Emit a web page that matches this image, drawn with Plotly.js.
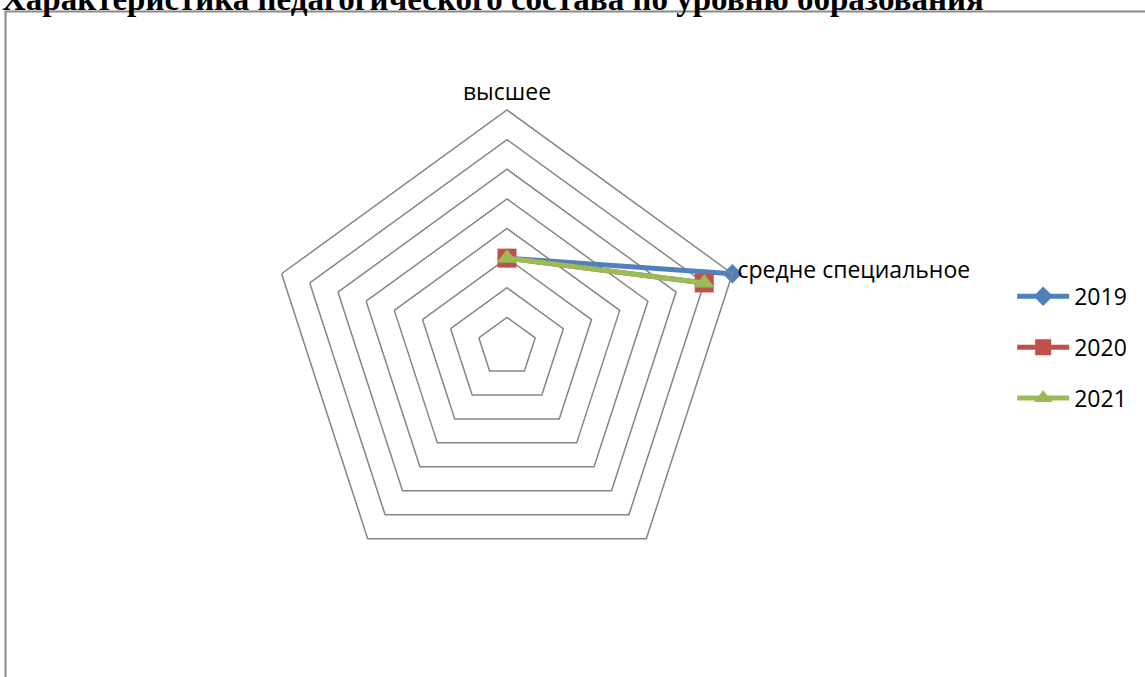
<!DOCTYPE html>
<html>
<head>
<meta charset="utf-8">
<script src="https://cdn.plot.ly/plotly-3.0.1.min.js"></script>
<style>html,body{margin:0;padding:0;background:#fff;}#chart{width:1145px;height:677px;}</style>
</head>
<body>
<div id="chart"></div>
<script>
const titleText = "Характеристика педагогического состава по уровню образования";
const categories = ["высшее", "средне специальное", " ", "  ", "   "];
const seriesNames = ["2019", "2020", "2021"];
const values2019 = [3, 8, null, null, null];
const values2020 = [3, 7, null, null, null];
const values2021 = [3, 7, null, null, null];

const colors = ["#4F81BD", "#C0504D", "#9BBB59"];
const symbols = ["diamond", "square", "triangle-up"];
const markerSizes = [15, 19, 18];
const allValues = [values2019, values2020, values2021];

const traces = allValues.map((vals, i) => ({
  type: "scatterpolar",
  r: vals,
  theta: categories,
  name: seriesNames[i],
  legendgroup: seriesNames[i],
  mode: "lines+markers",
  connectgaps: false,
  line: {color: colors[i], width: 5},
  marker: {symbol: symbols[i], size: markerSizes[i], color: colors[i]},
  hoverinfo: "skip"
}));

const W = 1145, H = 677;
const cx = 507, cy = 347, R = 237;

const layout = {
  width: W, height: H,
  margin: {l: 0, r: 0, t: 0, b: 0},
  paper_bgcolor: "#fff",
  showlegend: true,
  font: {family: "Open Sans, Liberation Sans, sans-serif", color: "#000", size: 23},
  polar: {
    domain: {x: [(cx - R) / W, (cx + R) / W], y: [1 - (cy + R) / H, 1 - (cy - R) / H]},
    bgcolor: "#fff",
    gridshape: "linear",
    angularaxis: {
      type: "category",
      rotation: 90,
      direction: "clockwise",
      showgrid: false,
      showline: true,
      linecolor: "#868686",
      linewidth: 1.5,
      ticks: "",
      tickfont: {family: "Open Sans, sans-serif", size: 23, color: "#000"}
    },
    radialaxis: {
      range: [0, 8],
      dtick: 1,
      showline: false,
      showticklabels: false,
      ticks: "",
      gridcolor: "#868686",
      gridwidth: 1.5
    }
  },
  legend: {
    x: 0.884, xanchor: "left",
    y: 0.487, yanchor: "middle",
    font: {family: "Open Sans, sans-serif", size: 23, color: "#000"},
    tracegroupgap: 18,
    itemwidth: 52,
    bgcolor: "rgba(0,0,0,0)"
  },
  shapes: [{
    type: "rect", xref: "paper", yref: "paper",
    x0: 5.5 / W, x1: 1.01, y0: -0.01, y1: 1 - 11.5 / H,
    line: {color: "#898989", width: 2}, fillcolor: "rgba(0,0,0,0)"
  }],
  annotations: [{
    text: "<b>" + titleText + "</b>",
    xref: "paper", yref: "paper",
    x: 0, xanchor: "left",
    y: 1 + 21 / H, yanchor: "top",
    showarrow: false,
    font: {family: "Liberation Serif, Times New Roman, serif", size: 33, color: "#000"}
  }]
};

Plotly.newPlot("chart", traces, layout, {staticPlot: true, displayModeBar: false});
</script>
</body>
</html>
